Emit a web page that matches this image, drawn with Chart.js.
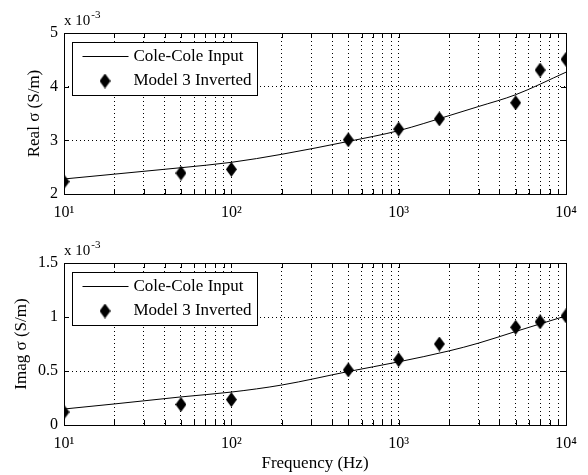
<!DOCTYPE html>
<html lang="en">
<head>
  <meta charset="UTF-8">
  <title>Cole-Cole vs Model 3</title>
  <script src="https://cdn.jsdelivr.net/npm/chart.js@4/dist/chart.umd.js"></script>
  <style>
    html, body { margin: 0; padding: 0; background: white; }
    #wrap { position: relative; width: 588px; height: 475px; }
    #wrap > div { position: absolute; left: 0; width: 588px; }
  </style>
</head>
<body>
<div id="wrap">
  <div style="top:0;height:230px"><canvas id="realChart"></canvas></div>
  <div style="top:230px;height:245px"><canvas id="imagChart"></canvas></div>
</div>
<script>
// values in units of 1e-3 S/m
const curveFreq = [10, 20, 50, 100, 200, 500, 1000, 2000, 3000, 5000, 10000];
const curveReal = [2.28, 2.37, 2.49, 2.59, 2.74, 2.98, 3.18, 3.46, 3.63, 3.85, 4.27];
const curveImag = [0.148, 0.195, 0.26, 0.305, 0.37, 0.495, 0.585, 0.686, 0.758, 0.866, 1.01];
const modelFreq = [10, 50, 100, 500, 1000, 1750, 5000, 7000, 10000];
const modelReal = [2.23, 2.39, 2.46, 3.01, 3.21, 3.40, 3.70, 4.31, 4.51];
const modelImag = [0.12, 0.19, 0.235, 0.51, 0.605, 0.75, 0.905, 0.955, 1.01];
const seriesNames = ['Cole-Cole Input', 'Model 3 Inverted'];
const xGridTicks = [10, 20, 30, 40, 50, 60, 70, 80, 90, 100, 200, 300, 400, 500, 600, 700, 800, 900,
  1000, 2000, 3000, 4000, 5000, 6000, 7000, 8000, 9000, 10000];
const xTickLabels = { 10: '10\u00b9', 100: '10\u00b2', 1000: '10\u00b3', 10000: '10\u2074' };
const FONT = '"Liberation Serif", "Times New Roman", serif';

Chart.defaults.font.family = FONT;
Chart.defaults.font.size = 16;
Chart.defaults.color = '#000';

function makeDiamond() {
  const c = document.createElement('canvas');
  c.width = 11; c.height = 15;
  const g = c.getContext('2d');
  g.fillStyle = '#000';
  g.beginPath();
  g.moveTo(5.5, 0); g.lineTo(11, 7.5); g.lineTo(5.5, 15); g.lineTo(0, 7.5);
  g.closePath(); g.fill();
  return c;
}
const diamond = makeDiamond();

// box, inward ticks, "x 10^-3" and the legend, MATLAB style
const framePlugin = {
  id: 'frame',
  afterDraw(chart) {
    const { ctx, chartArea: a } = chart;
    const x = chart.scales.x, y = chart.scales.y;
    ctx.save();
    ctx.strokeStyle = '#000';
    ctx.lineWidth = 1;
    ctx.setLineDash([]);
    ctx.beginPath();
    x.ticks.forEach(t => {
      const px = Math.round(x.getPixelForValue(t.value)) + 0.5;
      ctx.moveTo(px, a.bottom); ctx.lineTo(px, a.bottom - 5);
      ctx.moveTo(px, a.top); ctx.lineTo(px, a.top + 5);
    });
    y.ticks.forEach(t => {
      const py = Math.round(y.getPixelForValue(t.value)) + 0.5;
      ctx.moveTo(a.left, py); ctx.lineTo(a.left + 5, py);
      ctx.moveTo(a.right, py); ctx.lineTo(a.right - 5, py);
    });
    ctx.stroke();
    ctx.strokeRect(Math.round(a.left) + 0.5, Math.round(a.top) + 0.5,
      Math.round(a.right - a.left), Math.round(a.bottom - a.top));

    ctx.fillStyle = '#000';
    ctx.textBaseline = 'alphabetic';
    ctx.font = '15px ' + FONT;
    ctx.fillText('x 10', a.left, a.top - 8);
    const w = ctx.measureText('x 10').width;
    ctx.font = '11px ' + FONT;
    ctx.fillText('-3', a.left + w + 1, a.top - 15);

    // legend
    const lx = Math.round(a.left) + 8.5, ly = Math.round(a.top) + 9.5;
    ctx.fillStyle = '#fff';
    ctx.fillRect(lx, ly, 185, 53);
    ctx.strokeRect(lx, ly, 185, 53);
    ctx.beginPath();
    ctx.moveTo(lx + 10, ly + 14); ctx.lineTo(lx + 56, ly + 14);
    ctx.stroke();
    ctx.drawImage(diamond, lx + 27, ly + 31);
    ctx.fillStyle = '#000';
    ctx.font = '17px ' + FONT;
    ctx.textBaseline = 'middle';
    ctx.fillText(chart.data.datasets[1].label, lx + 61, ly + 14);
    ctx.fillText(chart.data.datasets[0].label, lx + 61, ly + 38);
    ctx.restore();
  }
};

function buildChart(id, curveVals, modelVals, yMin, yMax, yStep, yTitle, yTitlePad, xTitle, xHeight) {
  return new Chart(document.getElementById(id), {
    type: 'scatter',
    data: {
      datasets: [
        {
          label: seriesNames[1],
          data: modelFreq.map((f, i) => ({ x: f, y: modelVals[i] })),
          pointStyle: diamond,
          pointRadius: 7,
          showLine: false,
          order: 0
        },
        {
          label: seriesNames[0],
          data: curveFreq.map((f, i) => ({ x: f, y: curveVals[i] })),
          showLine: true,
          borderColor: '#000',
          borderWidth: 1,
          pointRadius: 0,
          cubicInterpolationMode: 'monotone',
          order: 1
        }
      ]
    },
    options: {
      responsive: true,
      maintainAspectRatio: false,
      animation: false,
      layout: { padding: { top: 33, right: 22, left: 0, bottom: 0 } },
      plugins: { legend: { display: false }, tooltip: { enabled: false } },
      scales: {
        x: {
          type: 'logarithmic',
          min: 10, max: 10000,
          afterBuildTicks: s => { s.ticks = xGridTicks.map(v => ({ value: v })); },
          afterFit: s => { s.height = xHeight; },
          ticks: {
            autoSkip: false, maxRotation: 0, padding: 9,
            callback: v => xTickLabels[v] || ''
          },
          grid: { color: '#000', lineWidth: 1, drawTicks: false },
          border: { display: false, dash: [1, 3] },
          title: { display: !!xTitle, text: xTitle, font: { size: 17 }, padding: { top: 0, bottom: 1 } }
        },
        y: {
          min: yMin, max: yMax,
          afterFit: s => { s.width = 64; },
          ticks: { stepSize: yStep, padding: 6, callback: v => String(v) },
          grid: { color: '#000', lineWidth: 1, drawTicks: false },
          border: { display: false, dash: [1, 3] },
          title: { display: true, text: yTitle, font: { size: 17 }, padding: { top: yTitlePad - 1, bottom: 0 } }
        }
      }
    },
    plugins: [framePlugin]
  });
}

buildChart('realChart', curveReal, modelReal, 2, 5, 1, 'Real \u03c3 (S/m)', 25, '', 36);
buildChart('imagChart', curveImag, modelImag, 0, 1.5, 0.5, 'Imag \u03c3 (S/m)', 12, 'Frequency (Hz)', 50);
</script>
</body>
</html>
